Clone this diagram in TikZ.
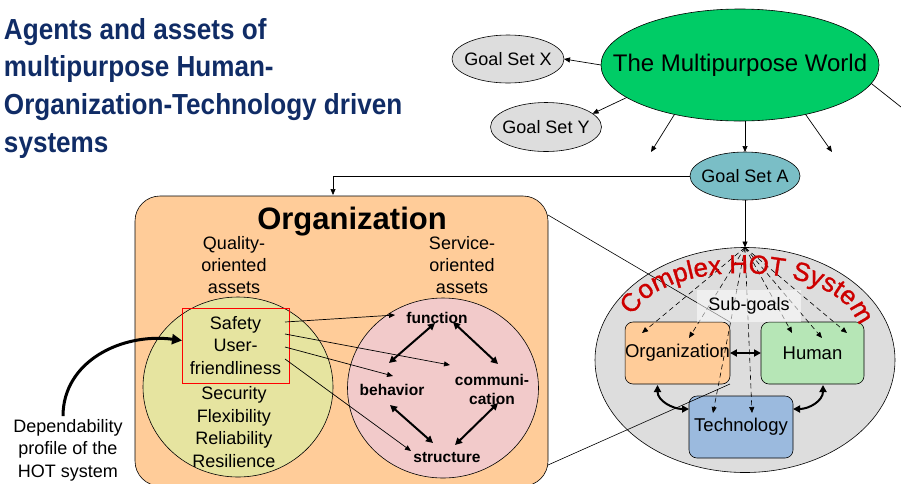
\documentclass[tikz,border=0pt]{standalone}
\usepackage{fontspec}
\setmainfont{Liberation Sans}
\newfontfamily\titlefont[FakeStretch=0.9]{Liberation Sans}
\newfontfamily\hotfont[FakeBold=1.2]{Liberation Sans}
\usetikzlibrary{shapes.geometric,arrows.meta,calc,decorations.text}
\newcommand\fs[2]{\fontsize{#1}{#2}\selectfont}
\definecolor{titleblue}{RGB}{16,44,102}
\definecolor{worldgreen}{RGB}{0,204,102}
\definecolor{goalgray}{RGB}{221,221,221}
\definecolor{goalteal}{RGB}{122,190,198}
\definecolor{peach}{RGB}{255,204,153}
\definecolor{khaki}{RGB}{230,228,160}
\definecolor{pinkc}{RGB}{242,202,202}
\definecolor{hotgray}{RGB}{221,221,221}
\definecolor{humgreen}{RGB}{182,230,182}
\definecolor{techblue}{RGB}{155,186,222}
\definecolor{hotred}{RGB}{205,0,0}
\begin{document}
\begin{tikzpicture}[x=1pt,y=-1pt,
  every node/.style={inner sep=0pt, outer sep=0pt},
  ell/.style={ellipse, draw=black, line width=0.6pt},
  thinarrow/.style={-{Triangle[length=6pt,width=5pt]}, line width=0.7pt},
  thickarrow/.style={{Triangle[length=7pt,width=7pt]}-{Triangle[length=7pt,width=7pt]}, line width=2pt},
  dasharrow/.style={dash pattern=on 5pt off 3.5pt, -{Triangle[length=6pt,width=5pt]}, line width=0.6pt},
  smallbox/.style={draw=black, line width=0.6pt, rounded corners=8, minimum width=103, minimum height=62, font=\fs{18.5}{22}},
  body/.style={font=\fs{18}{22.5}, align=center},
  svc/.style={font=\bfseries\fs{15.5}{19}, align=center}
]
\useasboundingbox (0,0) rectangle (901,483);

% title
\node[anchor=north west, align=left, text=titleblue, font=\titlefont\bfseries\fs{29}{37.7}] (title) at (4,18)
  {Agents and assets of\\multipurpose Human-\\Organization-Technology driven\\systems};

% world and goal sets
\node[ell, fill=worldgreen, minimum width=278, minimum height=112] (world) at (740,65) {};
\node[font=\fs{24}{28}] (worldtxt) at (world) {The Multipurpose World};
\node[ell, fill=goalgray, minimum width=112, minimum height=48] (gx) at (508,59) {};
\node[font=\fs{18}{22}] (gxtxt) at (gx) {Goal Set X};
\node[ell, fill=goalgray, minimum width=111, minimum height=49] (gy) at (546,127) {};
\node[font=\fs{18}{22}] (gytxt) at (gy) {Goal Set Y};
\node[ell, fill=goalteal, minimum width=110, minimum height=48] (ga) at (745,176) {};
\node[font=\fs{18}{22}] (gatxt) at (ga) {Goal Set A};

\coordinate (d1) at (651,152);
\coordinate (d3) at (832,152);
\coordinate (edge) at (901,107);
\draw[thinarrow] (world.west) -- (gx.east);
\draw[thinarrow] (world.196) -- (gy.16);
\draw[thinarrow] (world.217) -- (d1);
\draw[thinarrow] (world.south -| ga.north) -- (ga.north);
\draw[thinarrow] (world.323) -- (d3);
\draw[line width=0.7pt] (world.-8) -- (edge);

% big organization box
\node[draw=black, line width=0.6pt, rounded corners=25, fill=peach, minimum width=413, minimum height=290] (ob) at (341.5,341) {};
\coordinate (obtop) at (333,195);
\draw[thinarrow] (ga.west) -| (obtop);

\node[font=\bfseries\fs{31}{36}] (orgtitle) at (352,222) {Organization};
\node[body, font=\fs{18}{22}] (qual) at (234,265) {Quality-\\oriented\\assets};
\node[body, font=\fs{18}{22}] (serv) at (462,265) {Service-\\oriented\\assets};

\node[ell, fill=khaki, minimum width=190, minimum height=180] (qc) at (238,387) {};
\node[ell, fill=pinkc, minimum width=191, minimum height=180] (sc) at (443,388) {};

\node[draw=red, line width=0.8pt, minimum width=107, minimum height=75, body] (rb) at (235.5,345.5) {Safety\\User-\\friendliness};
\node[body] (qlist) at (234,427) {Security\\Flexibility\\Reliability\\Resilience};

\node[svc] (fn) at (437,318) {function};
\node[svc] (bh) at (392,390) {behavior};
\node[svc] (cm) at (492,389) {communi-\\cation};
\node[svc] (st) at (447,458) {structure};

\draw[thickarrow] ($(fn)+(-2,5)$) -- ($(bh)+(-3,-27)$);
\draw[thickarrow] ($(fn)+(16,4)$) -- ($(cm)+(6,-25)$);
\draw[thickarrow] ($(bh)+(-2,15)$) -- ($(st)+(-14,-15)$);
\draw[thickarrow] ($(cm)+(6,14)$) -- ($(st)+(8,-13)$);

\draw[thinarrow] ($(rb.east)+(-4,-23.5)$) -- ($(fn)+(-42,-3)$);
\draw[thinarrow] ($(rb.east)+(-4,-11.5)$) -- ($(cm)+(-42,-24)$);
\draw[thinarrow] ($(rb.east)+(-4,1.5)$) -- ($(bh)+(1,-14)$);
\draw[thinarrow] ($(rb.east)+(-4,13.5)$) -- ($(st)+(-36,-7)$);

% dependability
\node[body] (dep) at (68,450) {Dependability\\profile of the\\HOT system};
\draw[line width=3pt, -{Triangle[length=10pt,width=10pt]}] ($(dep.north)+(-5,-3)$) .. controls +(0,-55) and +(-60,-8) .. ($(rb.west)+(0,-5)$);

% HOT system
\node[ell, fill=hotgray, minimum width=300, minimum height=225] (hot) at (745,360) {};
\draw[thinarrow] (ga.south) -- (hot.north);

\node[smallbox, fill=peach] (os) at (677.5,353) {Organization};
\node[smallbox, fill=humgreen] (hm) at (812.5,353) {Human};
\node[smallbox, fill=techblue, minimum width=104] (tc) at (741,427) {Technology};

\draw[thickarrow] (os.east) -- (hm.west);
\draw[thickarrow] ($(os.south)+(-20,1)$) .. controls +(0,16) and +(-16,0) .. ($(tc.west)+(0,-18)$);
\draw[thickarrow] ($(hm.south)+(10.5,1)$) .. controls +(0,16) and +(16,0) .. ($(tc.east)+(0,-18)$);

\draw[dasharrow] (hot.north) -- ($(os.north west)+(17,11)$);
\draw[dasharrow] (hot.north) -- ($(os.north west)+(64,16)$);
\draw[dasharrow] (hot.north) -- ($(tc.north west)+(24,17)$);
\draw[dasharrow] (hot.north) -- ($(tc.north west)+(63,17)$);
\draw[dasharrow] (hot.north) -- ($(hm.north west)+(31,11)$);
\draw[dasharrow] (hot.north) -- ($(hm.north west)+(61,16)$);
\draw[dasharrow] (hot.north) -- ($(hm.north west)+(86,11)$);

% callout lines
\draw[line width=0.6pt] ($(ob.north east)+(0,19)$) -- (os.north east);
\draw[line width=0.6pt] ($(ob.south east)+(0,-21)$) -- (os.south east);

\node[fill=white, fill opacity=0.55, text opacity=1, minimum width=104, minimum height=32, font=\fs{18}{22}] (sg) at (749,306) {Sub-goals};

\path[decorate, decoration={text along path, text align=fit to path, text color=hotred,
  text={|\hotfont\fs{26}{30}|Complex HOT System}}]
  (633,316) .. controls (660,258) and (830,258) .. (857,321);
\end{tikzpicture}
\end{document}
